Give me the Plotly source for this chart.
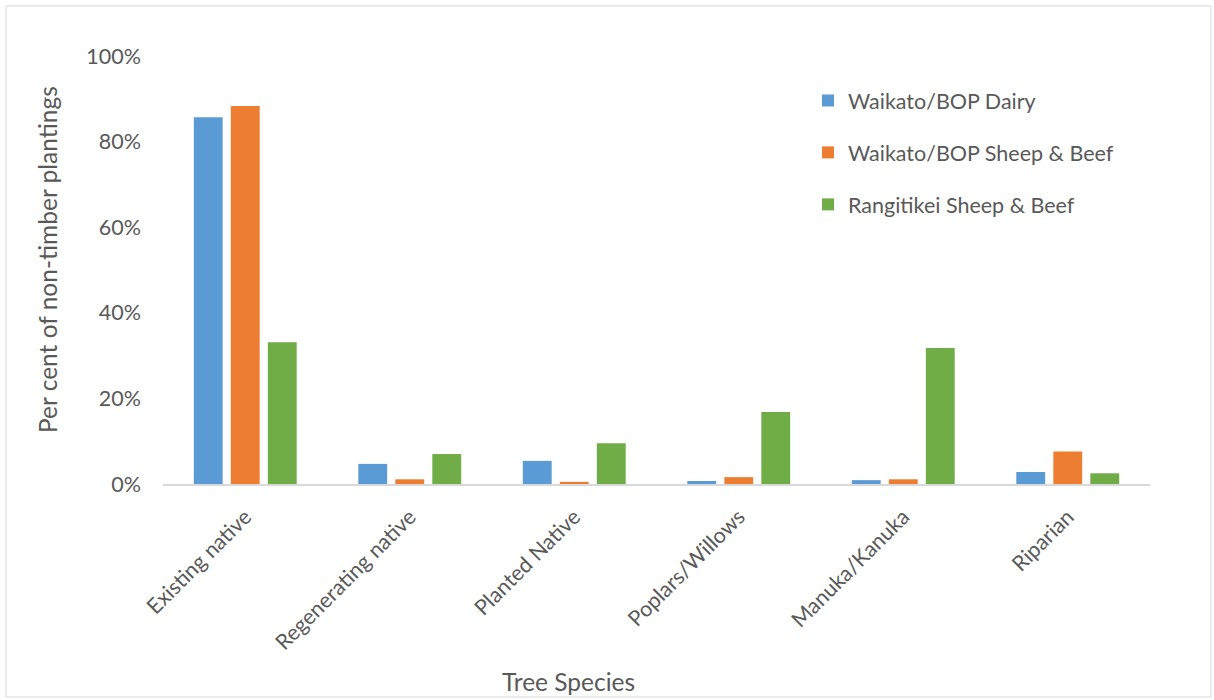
import plotly.graph_objects as go

categories = ["Existing native", "Regenerating native", "Planted Native",
              "Poplars/Willows", "Manuka/Kanuka", "Riparian"]
waikato_dairy = [0.857, 0.047, 0.054, 0.007, 0.009, 0.028]
waikato_sheep_beef = [0.883, 0.011, 0.005, 0.016, 0.011, 0.076]
rangitikei_sheep_beef = [0.331, 0.070, 0.095, 0.168, 0.318, 0.025]
y_ticks = [0, 0.2, 0.4, 0.6, 0.8, 1.0]

series = [
    ("Waikato/BOP Dairy", waikato_dairy, "#5B9BD5"),
    ("Waikato/BOP Sheep & Beef", waikato_sheep_beef, "#ED7D31"),
    ("Rangitikei Sheep & Beef", rangitikei_sheep_beef, "#70AD47"),
]

FONT = "Lato"
GREY = "#595959"
TICK_SIZE = 21.5
TITLE_SIZE = 24.5

fig = go.Figure()
for i, (name, vals, color) in enumerate(series):
    fig.add_trace(go.Bar(
        x=categories, y=vals, name=name,
        marker=dict(color=color, line=dict(width=0)),
        legendgroup=f"g{i}",
    ))

# plot area in pixels: x 163..1150, y 56 (100%)..484 (0%)
L, R, T, B = 163, 1150, 56, 484
W, H = 1214, 700
pw, ph = R - L, B - T

def px(x):
    return (x - L) / pw

def py(y):
    return (B - y) / ph

fig.update_layout(
    width=W, height=H,
    margin=dict(l=L, r=W - R, t=T, b=H - B),
    paper_bgcolor="white", plot_bgcolor="white",
    font=dict(family=FONT, color=GREY, size=TICK_SIZE),
    barmode="group", bargap=0.325, bargroupgap=0.22,
    showlegend=True,
    legend=dict(
        x=px(808), y=py(80), xanchor="left", yanchor="top",
        font=dict(size=TICK_SIZE, color=GREY), tracegroupgap=21,
        bgcolor="rgba(0,0,0,0)", itemwidth=30,
    ),
    xaxis=dict(
        showgrid=False, showline=True, linecolor="#D9D9D9", linewidth=1.5,
        ticks="", tickangle=-45, tickfont=dict(size=TICK_SIZE, color=GREY),
        ticklabelstandoff=10, automargin=False,
    ),
    yaxis=dict(
        range=[0, 1], tickvals=y_ticks, tickformat=".0%",
        showgrid=False, showline=False, zeroline=False, ticks="",
        tickfont=dict(size=TICK_SIZE, color=GREY), ticklabelstandoff=21,
        automargin=False,
    ),
    annotations=[
        dict(text="Tree Species", xref="paper", yref="paper",
             x=px(568), y=py(681), xanchor="center", yanchor="middle",
             showarrow=False, font=dict(size=TITLE_SIZE, color=GREY)),
        dict(text="Per cent of non-timber plantings", xref="paper", yref="paper",
             x=px(47), y=py(260), xanchor="center", yanchor="middle", textangle=-90,
             showarrow=False, font=dict(size=TITLE_SIZE, color=GREY)),
    ],
    shapes=[dict(
        type="rect", xref="paper", yref="paper",
        x0=px(6), x1=px(1211), y0=py(697), y1=py(6),
        line=dict(color="#D9D9D9", width=1), fillcolor="rgba(0,0,0,0)", layer="below",
    )],
)

fig.write_html("out.html")
